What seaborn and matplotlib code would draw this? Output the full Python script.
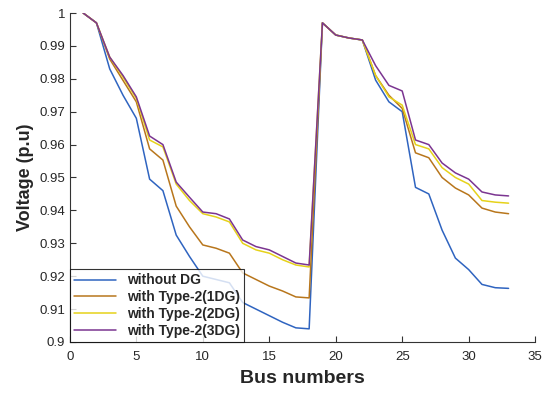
import matplotlib
matplotlib.use("Agg")
import matplotlib.pyplot as plt
import seaborn as sns
import numpy as np
import pandas as pd

bus = list(range(1, 34))

without_dg = [1.0, 0.997, 0.983, 0.975, 0.968, 0.9495, 0.946, 0.9325, 0.926, 0.920,
              0.919, 0.918, 0.912, 0.910, 0.908, 0.906, 0.9043, 0.904, 0.997, 0.9933,
              0.9924, 0.9918, 0.9796, 0.973, 0.970, 0.947, 0.945, 0.934, 0.9255, 0.922,
              0.9175, 0.9165, 0.9163]
type2_1dg = [1.0, 0.997, 0.986, 0.9795, 0.973, 0.9587, 0.9553, 0.9413, 0.935, 0.9295,
             0.9285, 0.927, 0.921, 0.919, 0.917, 0.9155, 0.9137, 0.9134, 0.997, 0.9933,
             0.9924, 0.9918, 0.981, 0.975, 0.971, 0.9575, 0.956, 0.950, 0.9468, 0.9447,
             0.9407, 0.9395, 0.939]
type2_2dg = [1.0, 0.997, 0.9866, 0.9805, 0.974, 0.9614, 0.9593, 0.948, 0.943, 0.939,
             0.938, 0.9365, 0.930, 0.928, 0.927, 0.925, 0.9234, 0.9228, 0.997, 0.9933,
             0.9924, 0.9918, 0.981, 0.9745, 0.972, 0.960, 0.9587, 0.953, 0.950, 0.948,
             0.943, 0.9425, 0.9422]
type2_3dg = [1.0, 0.997, 0.9866, 0.981, 0.9745, 0.9626, 0.960, 0.9486, 0.944, 0.9395,
             0.939, 0.9374, 0.931, 0.929, 0.928, 0.926, 0.924, 0.9234, 0.997, 0.9933,
             0.9924, 0.9918, 0.984, 0.978, 0.9763, 0.9614, 0.960, 0.9544, 0.9514, 0.9495,
             0.9456, 0.9447, 0.9444]

labels = ['without DG', 'with Type-2(1DG)', 'with Type-2(2DG)', 'with Type-2(3DG)']
colors = ['#2f64c0', '#b8761c', '#e6d21a', '#7b3591']

df = pd.concat([
    pd.DataFrame({'bus': bus, 'v': vals, 'case': lab})
    for vals, lab in zip([without_dg, type2_1dg, type2_2dg, type2_3dg], labels)
])

sns.set_style('white')
plt.rcParams['font.family'] = ['Liberation Sans', 'DejaVu Sans']

fig = plt.figure(figsize=(5.5, 3.94), dpi=100)
ax = fig.add_axes([0.127, 0.132, 0.846, 0.835])
sns.lineplot(data=df, x='bus', y='v', hue='case', hue_order=labels,
             palette=colors, linewidth=1.1, ax=ax)

ax.set_xlim(0, 35)
ax.set_ylim(0.9, 1.0)
ax.set_xticks(np.arange(0, 36, 5))
ax.set_yticks(np.round(np.arange(0.9, 1.001, 0.01), 2))
ax.set_yticklabels(['0.9', '0.91', '0.92', '0.93', '0.94', '0.95', '0.96',
                    '0.97', '0.98', '0.99', '1'])
ax.tick_params(axis='both', direction='in', length=4, width=0.8, labelsize=9.5,
               color='#333333', bottom=True, left=True)
ax.tick_params(axis='x', pad=6.5)
ax.set_xlabel('Bus numbers', fontsize=14, fontweight='bold', labelpad=5)
ax.set_ylabel('Voltage (p.u)', fontsize=13, fontweight='bold')
sns.despine(ax=ax)
for s in ['left', 'bottom']:
    ax.spines[s].set_color('#333333')
    ax.spines[s].set_linewidth(0.8)

leg = ax.legend(loc='lower left', bbox_to_anchor=(0, 0), frameon=True,
                fancybox=False, borderaxespad=0, prop={'weight': 'bold', 'size': 10},
                handlelength=3.0, labelspacing=0.2, borderpad=0.3)
leg.get_frame().set_edgecolor('black')
leg.get_frame().set_linewidth(0.8)

fig.savefig('out.png', dpi=100)
